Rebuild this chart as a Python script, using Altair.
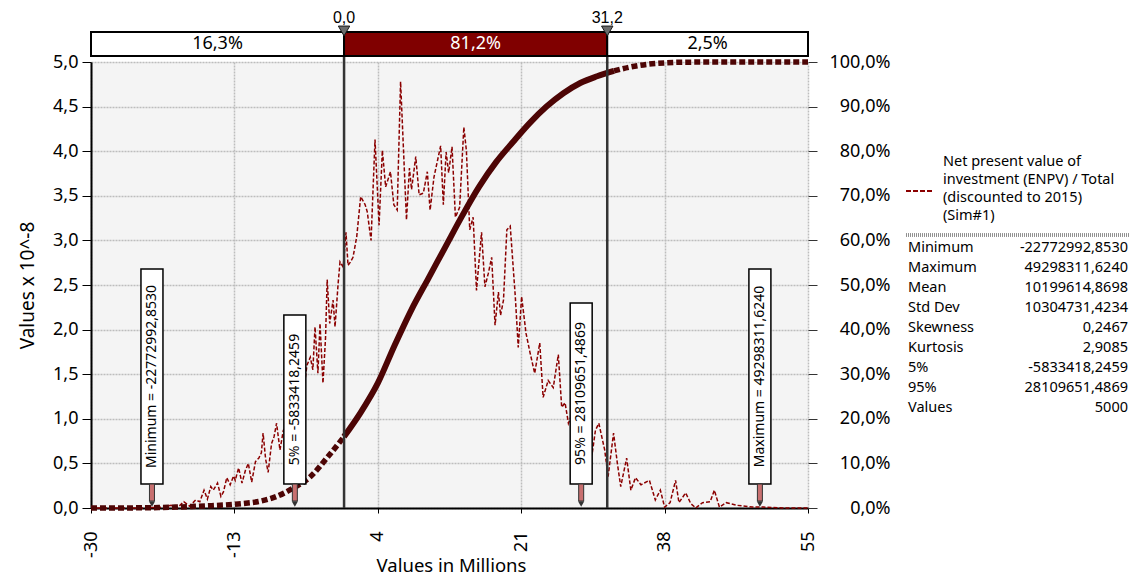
import altair as alt
import pandas as pd

# ---------------- data ----------------
density_points = [
    (-30, 0), (-24, 0), (-21.5, 0.01), (-20.5, 0.03), (-19.8, 0.0), (-19.0, 0.07),
    (-18.3, 0.02), (-17.6, 0.09), (-17.1, 0.07), (-16.6, 0.2), (-16.2, 0.1), (-15.8, 0.24),
    (-15.5, 0.2), (-15.0, 0.28), (-14.6, 0.13), (-14.3, 0.18), (-13.9, 0.34), (-13.5, 0.26),
    (-13.1, 0.36), (-12.9, 0.31), (-12.5, 0.45), (-12.1, 0.28), (-11.7, 0.42), (-11.35, 0.5),
    (-10.95, 0.29), (-10.5, 0.52), (-10.1, 0.56), (-9.8, 0.62), (-9.6, 0.84), (-9.3, 0.55),
    (-9.0, 0.40), (-8.6, 0.72), (-8.3, 0.8), (-8.0, 0.95), (-7.6, 0.65), (-7.2, 0.87),
    (-6.8, 0.92), (-6.4, 1.05), (-6.0, 1.25), (-5.6, 1.12), (-5.2, 1.45), (-4.8, 1.3),
    (-4.4, 1.6), (-4.0, 1.69), (-3.7, 1.55), (-3.44, 2.03), (-3.1, 1.51), (-2.85, 2.07),
    (-2.5, 1.40), (-2.2, 1.9), (-2.0, 2.56), (-1.7, 2.07), (-1.3, 2.33), (-1.07, 2.03),
    (-0.7, 2.52), (-0.48, 2.76), (-0.1, 2.70), (0.23, 3.09), (0.47, 2.72), (0.7, 2.75),
    (1.06, 2.81), (1.5, 3.04), (1.97, 3.49), (2.5, 3.40), (2.75, 3.32), (3.2, 3.0),
    (3.67, 4.13), (4.15, 3.17), (4.54, 4.01), (4.93, 3.6), (5.5, 3.77), (5.9, 3.40),
    (6.3, 3.34), (6.7, 4.78), (7.4, 3.23), (7.75, 3.81), (8.0, 3.57), (8.5, 3.94),
    (8.9, 3.51), (9.4, 3.53), (9.87, 3.77), (10.2, 3.34), (10.66, 3.71), (11.45, 4.06),
    (11.77, 3.40), (12.1, 3.99), (12.4, 3.76), (12.8, 4.05), (13.2, 3.26), (13.7, 3.37),
    (14.2, 4.27), (14.5, 4.01), (14.9, 3.12), (15.3, 3.26), (15.7, 2.44), (16.3, 3.09),
    (16.7, 2.48), (17.1, 2.63), (17.5, 2.81), (17.9, 2.05), (18.3, 2.42), (18.55, 2.16),
    (18.9, 2.33), (19.3, 3.12), (19.7, 3.16), (20.3, 2.37), (20.65, 1.80), (21.05, 2.37),
    (21.57, 1.96), (22.05, 1.74), (22.6, 1.51), (23.2, 1.85), (23.6, 1.24), (24.2, 1.43),
    (24.8, 1.35), (25.4, 1.72), (25.8, 1.13), (26.2, 1.18), (26.6, 0.95), (27.0, 1.05),
    (27.5, 0.85), (28.0, 0.9), (28.5, 0.7), (29.0, 0.8), (29.4, 0.6), (29.8, 0.87),
    (30.2, 0.95), (30.9, 0.65), (31.3, 0.35), (31.95, 0.84), (32.4, 0.5), (32.8, 0.24),
    (33.5, 0.56), (34.0, 0.20), (34.55, 0.34), (35.2, 0.26), (35.6, 0.28), (36.2, 0.31),
    (36.9, 0.09), (37.5, 0.2), (38.0, 0.01), (38.65, 0.06), (39.3, 0.31), (39.7, 0.06),
    (40.5, 0.17), (41.1, 0.05), (41.7, 0.0), (42.5, 0.06), (43.4, 0.07), (43.9, 0.2),
    (44.5, 0.01), (45.3, 0.06), (46.6, 0.03), (48.4, 0.01), (49.7, 0.01), (52.0, 0.0),
    (55.0, 0.0),
]

cdf_points = [
    (-30, 0), (-27, 0), (-24, 0.05), (-22, 0.1), (-20, 0.2), (-18, 0.35), (-16, 0.5),
    (-14, 0.7), (-12, 1.0), (-10, 1.5), (-8, 2.6), (-6, 4.5), (-4, 7.0), (-2, 11.3),
    (0, 16.0), (2, 21.5), (4, 28.0), (6, 36.5), (8, 44.5), (10, 51.5), (12, 58.5),
    (14, 65.5), (16, 72.0), (18, 77.5), (20, 82.0), (22, 86.3), (24, 90.0), (26, 93.0),
    (28, 95.3), (30, 96.8), (32, 98.0), (34, 98.9), (36, 99.5), (38, 99.8), (40, 99.95),
    (45, 100), (50, 100), (55, 100),
]

x_ticks = [-30, -13, 4, 21, 38, 55]
y_left_ticks = [0, 0.5, 1.0, 1.5, 2.0, 2.5, 3.0, 3.5, 4.0, 4.5, 5.0]
y_right_ticks = [0, 10, 20, 30, 40, 50, 60, 70, 80, 90, 100]

bar_edges = [-30, 0.0, 31.2, 55]
bar_labels = ["16,3%", "81,2%", "2,5%"]
bar_segments = ["left", "mid", "right"]

marker_values = [0.0, 31.2]
marker_labels = ["0,0", "31,2"]

stat_marks = [-22.7729928530, -5.8334182459, 28.1096514869, 49.2983116240]
stat_mark_texts = ["Minimum = -22772992,8530", "5% = -5833418,2459",
                   "95% = 28109651,4869", "Maximum = 49298311,6240"]

legend_lines = ["Net present value of", "investment (ENPV) / Total",
                "(discounted to 2015)", "(Sim#1)"]

stat_names = ["Minimum", "Maximum", "Mean", "Std Dev", "Skewness", "Kurtosis",
              "5%", "95%", "Values"]
stat_values = ["-22772992,8530", "49298311,6240", "10199614,8698", "10304731,4234",
               "0,2467", "2,9085", "-5833418,2459", "28109651,4869", "5000"]

# ---------------- layout (pixels, relative to plot origin) ----------------
PLOT_W, PLOT_H = 717, 446
FONT = "Noto Sans"
box_tops = [207, 253, 241, 207]
BOX_BOTTOM = 422

dens_df = pd.DataFrame(density_points, columns=["x", "d"])
cdf_df = pd.DataFrame(cdf_points, columns=["x", "c"])
bar_df = pd.DataFrame({"x0": bar_edges[:-1], "x1": bar_edges[1:],
                       "label": bar_labels, "seg": bar_segments})
mk_df = pd.DataFrame({"x": marker_values, "label": marker_labels})
box_df = pd.DataFrame({"x": stat_marks, "t": stat_mark_texts, "top": box_tops})
box_df["mid"] = (box_df["top"] + BOX_BOTTOM) / 2
leg_df = pd.DataFrame({"t": legend_lines, "ly": [100 + 18 * i for i in range(len(legend_lines))]})
st_df = pd.DataFrame({"n": stat_names, "v": stat_values,
                      "ry": [186 + 20 * i for i in range(len(stat_names))]})

xscale = alt.Scale(domain=[-30, 55], nice=False, zero=False)
GRID = dict(grid=True, gridColor="#bdbdbd", gridDash=[2, 1], gridWidth=1.5)
xaxis = alt.Axis(values=x_ticks, labelExpr="'' + datum.value", labelAngle=270,
                 labelAlign="right", labelBaseline="middle", labelFontSize=18,
                 labelFont=FONT, labelColor="black", tickSize=5, labelPadding=18,
                 tickColor="black", domainColor="black", domainWidth=2,
                 labelFlush=False, labelOverlap=False,
                 title="Values in Millions", titleFont=FONT, titleFontSize=18.5,
                 titleFontWeight="normal", titleColor="black", titleX=360, titleY=63,
                 titleBaseline="alphabetic", titleAlign="center", **GRID)
X = alt.X("x:Q", scale=xscale, axis=xaxis)

left_axis = alt.Axis(values=y_left_ticks,
                     labelExpr="replace(format(datum.value, '.1f'), '.', ',')",
                     labelFontSize=18, labelFont=FONT, labelColor="black",
                     tickSize=9, labelPadding=4, tickColor="black",
                     domainColor="black", domainWidth=2, labelFlush=False,
                     labelOverlap=False, title="Values x 10^-8", titleFont=FONT,
                     titleFontSize=19, titleFontWeight="normal", titleColor="black",
                     titleX=-64, titleY=223, titleAngle=270, titleAlign="center",
                     titleBaseline="middle", **GRID)
right_axis = alt.Axis(orient="right", values=y_right_ticks,
                      labelExpr="replace(format(datum.value, '.1f'), '.', ',') + '%'",
                      labelFontSize=18, labelFont=FONT, labelColor="black",
                      labelAlign="right", labelPadding=73, tickSize=9,
                      tickColor="#333333", domain=False, grid=False,
                      labelFlush=False, labelOverlap=False, title="")

density = alt.Chart(dens_df).mark_line(color="#8b0000", strokeWidth=1.5,
                                       strokeDash=[4, 2]).encode(
    x=X, y=alt.Y("d:Q", scale=alt.Scale(domain=[0, 5], nice=False), axis=left_axis))

CDF_COLOR = "#4d0505"
cdf_scale = alt.Scale(domain=[0, 100], nice=False)
cdf_left = alt.Chart(cdf_df).transform_filter("datum.x <= 0").mark_line(
    color=CDF_COLOR, strokeWidth=5.5, strokeDash=[6, 3], interpolate="monotone").encode(
    x=X, y=alt.Y("c:Q", scale=cdf_scale, axis=None))
cdf_mid = alt.Chart(cdf_df).transform_filter("datum.x >= 0 && datum.x <= 32").mark_line(
    color=CDF_COLOR, strokeWidth=6, interpolate="monotone").encode(
    x=X, y=alt.Y("c:Q", scale=cdf_scale, axis=right_axis))
cdf_right = alt.Chart(cdf_df).transform_filter("datum.x >= 32").mark_line(
    color=CDF_COLOR, strokeWidth=5.5, strokeDash=[6, 3], interpolate="monotone").encode(
    x=X, y=alt.Y("c:Q", scale=cdf_scale, axis=None))

vlines = alt.Chart(mk_df).mark_rule(color="#333333", strokeWidth=2.5).encode(
    x=X, y=alt.value(-30), y2=alt.value(PLOT_H))

bar = alt.Chart(bar_df).mark_rect(stroke="black", strokeWidth=2).encode(
    x=alt.X("x0:Q", scale=xscale, axis=xaxis), x2="x1:Q",
    y=alt.value(-30), y2=alt.value(-6),
    fill=alt.condition(alt.datum.seg == "mid", alt.value("#800000"), alt.value("white")))
bar_text = alt.Chart(bar_df).transform_calculate(x="(datum.x0 + datum.x1) / 2").mark_text(
    font=FONT, fontSize=18, baseline="middle").encode(
    x=X, y=alt.value(-18), text="label:N",
    color=alt.condition(alt.datum.seg == "mid", alt.value("white"), alt.value("black")))

tri = alt.Chart(mk_df).mark_point(shape="triangle-down", filled=True, size=130,
                                  fill="#6b6b6b", stroke="#1a1a1a", strokeWidth=1,
                                  opacity=1).encode(x=X, y=alt.value(-31))
mk_text = alt.Chart(mk_df).mark_text(font="Liberation Sans", fontSize=16,
                                     baseline="alphabetic", color="black").encode(
    x=X, y=alt.value(-39), text="label:N")

boxes = alt.Chart(box_df).mark_rect(fill="white", stroke="black", strokeWidth=1.5,
                                    xOffset=-11, x2Offset=11).encode(
    x=X, x2="x:Q", y=alt.Y("top:Q", scale=None, axis=None), y2=alt.value(BOX_BOTTOM))
box_text = alt.Chart(box_df).mark_text(font=FONT, fontSize=14, angle=270,
                                       baseline="middle", align="center",
                                       color="black").encode(
    x=X, y=alt.Y("mid:Q", scale=None, axis=None), text="t:N")
shaft = alt.Chart(box_df).mark_rect(fill="#c87070", stroke="#333333", strokeWidth=1,
                                    xOffset=-2.5, x2Offset=2.5).encode(
    x=X, x2="x:Q", y=alt.value(BOX_BOTTOM), y2=alt.value(439))
head = alt.Chart(box_df).mark_point(shape="triangle-down", filled=True, size=40,
                                    fill="#333333", opacity=1).encode(x=X, y=alt.value(442))

leg_sample = alt.Chart(leg_df).mark_rule(color="#8b0000", strokeWidth=1.5,
                                         strokeDash=[5, 2]).encode(
    x=alt.value(815), x2=alt.value(841), y=alt.value(129))
leg_text = alt.Chart(leg_df).mark_text(font=FONT, fontSize=14.5, align="left",
                                       baseline="middle", color="black").encode(
    x=alt.value(852), y=alt.Y("ly:Q", scale=None, axis=None), text="t:N")
sep = alt.Chart(leg_df).mark_rule(color="#8f8f8f", strokeWidth=3, strokeDash=[1, 1]).encode(
    x=alt.value(815), x2=alt.value(1039), y=alt.value(173))
st_names = alt.Chart(st_df).mark_text(font=FONT, fontSize=14.5, align="left",
                                      baseline="middle", color="black").encode(
    x=alt.value(817), y=alt.Y("ry:Q", scale=None, axis=None), text="n:N")
st_vals = alt.Chart(st_df).mark_text(font=FONT, fontSize=14.5, align="right",
                                     baseline="middle", color="black").encode(
    x=alt.value(1037), y=alt.Y("ry:Q", scale=None, axis=None), text="v:N")

chart = alt.layer(
    density, cdf_left, cdf_mid, cdf_right, vlines, bar, bar_text, tri, mk_text,
    boxes, box_text, shaft, head, leg_sample, leg_text, sep, st_names, st_vals,
).resolve_scale(y="independent").properties(
    width=PLOT_W, height=PLOT_H,
    padding={"left": 83, "top": 54, "right": 322, "bottom": 68},
    autosize=alt.AutoSizeParams(type="none"),
    background="white",
).configure_view(fill="#f4f4f4", strokeWidth=0)

chart.save("out.html", embed_options={"renderer": "svg", "actions": False})
